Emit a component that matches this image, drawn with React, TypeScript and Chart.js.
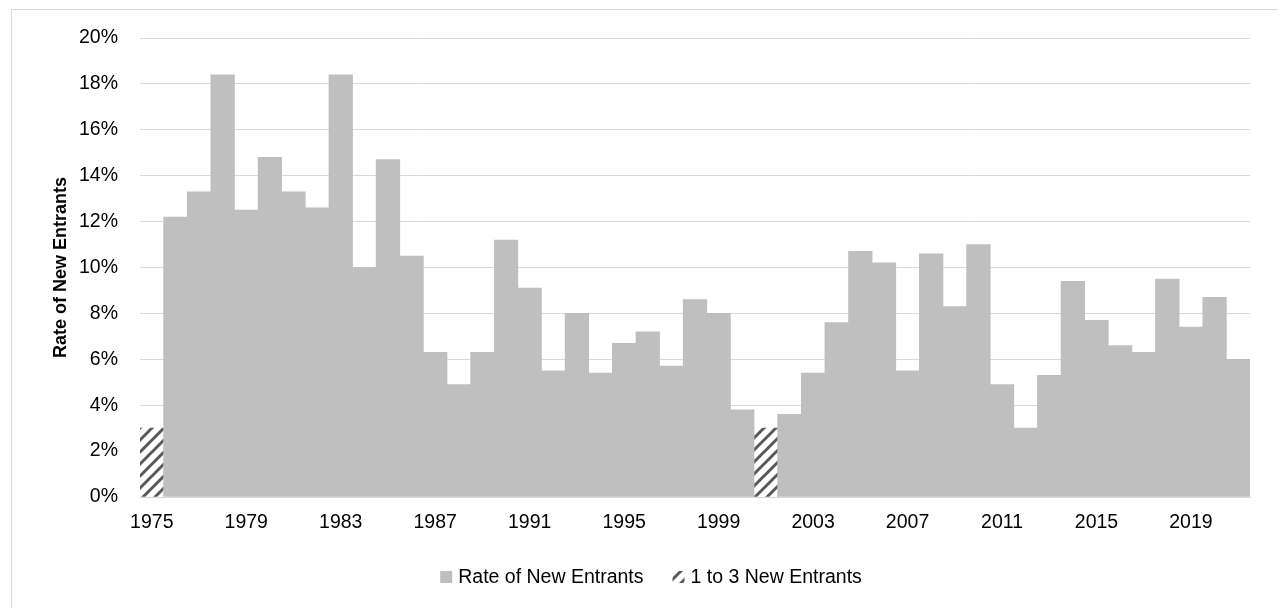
import React, { useEffect, useRef } from "react";
import { Chart, registerables } from "chart.js";

Chart.register(...registerables);

const years: string[] = [];
for (let y = 1975; y <= 2021; y++) years.push(String(y));

// Rate of New Entrants (%), null where only 1 to 3 new entrants
const rateValues: (number | null)[] = [
  null, 12.2, 13.3, 18.4, 12.5, 14.8, 13.3, 12.6, 18.4, 10.0,
  14.7, 10.5, 6.3, 4.9, 6.3, 11.2, 9.1, 5.5, 8.0, 5.4,
  6.7, 7.2, 5.7, 8.6, 8.0, 3.8, null, 3.6, 5.4, 7.6,
  10.7, 10.2, 5.5, 10.6, 8.3, 11.0, 4.9, 3.0, 5.3, 9.4,
  7.7, 6.6, 6.3, 9.5, 7.4, 8.7, 6.0,
];

// 1 to 3 New Entrants (hatched placeholder bars)
const fewValues: (number | null)[] = years.map((y) =>
  y === "1975" || y === "2001" ? 3 : null
);

const yTicks = [0, 2, 4, 6, 8, 10, 12, 14, 16, 18, 20];

const FONT = "'Liberation Sans', Arial, sans-serif";
const TICK_SIZE = 19.5;

function makeHatch(): CanvasPattern | string {
  const size = 12;
  const c = document.createElement("canvas");
  c.width = size;
  c.height = size;
  const ctx = c.getContext("2d");
  if (!ctx) return "#595959";
  ctx.fillStyle = "#ffffff";
  ctx.fillRect(0, 0, size, size);
  ctx.strokeStyle = "#595959";
  ctx.lineWidth = 3;
  ctx.beginPath();
  ctx.moveTo(-2, size + 2);
  ctx.lineTo(size + 2, -2);
  ctx.moveTo(-2, 2);
  ctx.lineTo(2, -2);
  ctx.moveTo(size - 2, size + 2);
  ctx.lineTo(size + 2, size - 2);
  ctx.stroke();
  const p = ctx.createPattern(c, "repeat");
  return p || "#595959";
}

const customLegend = {
  id: "customLegend",
  afterDraw(chart: any) {
    const ctx = chart.ctx as CanvasRenderingContext2D;
    const box = 12;
    const boxGap = 6;
    const itemGap = 29;
    const cy = 569;
    ctx.save();
    ctx.font = `${TICK_SIZE}px ${FONT}`;
    ctx.textBaseline = "middle";
    ctx.textAlign = "left";
    const items = chart.data.datasets.map((ds: any) => ({
      label: ds.label as string,
      fill: ds.backgroundColor,
      w: ctx.measureText(ds.label).width,
    }));
    let total = 0;
    items.forEach((it: any, i: number) => {
      total += box + boxGap + it.w + (i < items.length - 1 ? itemGap : 0);
    });
    let x = chart.width / 2 - total / 2 + 4;
    items.forEach((it: any) => {
      ctx.fillStyle = it.fill;
      ctx.fillRect(x, cy - box / 2, box, box);
      x += box + boxGap;
      ctx.fillStyle = "#000000";
      ctx.fillText(it.label, x, cy + 1);
      x += it.w + itemGap;
    });
    ctx.restore();
  },
};

export default function App() {
  const ref = useRef<HTMLCanvasElement | null>(null);

  useEffect(() => {
    if (!ref.current) return;
    const hatch = makeHatch();
    const chart = new Chart(ref.current, {
      type: "bar",
      data: {
        labels: years,
        datasets: [
          {
            label: "Rate of New Entrants",
            data: rateValues,
            backgroundColor: "#bfbfbf",
            borderWidth: 0,
            barPercentage: 1,
            categoryPercentage: 1,
            grouped: false,
          } as any,
          {
            label: "1 to 3 New Entrants",
            data: fewValues,
            backgroundColor: hatch as any,
            borderWidth: 0,
            barPercentage: 1,
            categoryPercentage: 1,
            grouped: false,
          } as any,
        ],
      },
      plugins: [customLegend],
      options: {
        animation: false,
        responsive: false,
        maintainAspectRatio: false,
        layout: { padding: { left: 0, right: 36, top: 30, bottom: 60 } },
        plugins: {
          tooltip: { enabled: false },
          legend: { display: false },
        },
        scales: {
          x: {
            grid: { display: false, drawTicks: false },
            border: { display: true, color: "#d9d9d9", width: 1 },
            ticks: {
              autoSkip: false,
              maxRotation: 0,
              minRotation: 0,
              padding: 14,
              color: "#000000",
              font: { family: FONT, size: TICK_SIZE },
              callback: (_v: any, i: number) => (i % 4 === 0 ? years[i] : ""),
            },
            afterFit: (s: any) => {
              s.height = 51;
            },
          },
          y: {
            min: 0,
            max: 20,
            afterBuildTicks: (s: any) => {
              s.ticks = yTicks.map((v) => ({ value: v }));
            },
            grid: { color: "#d9d9d9", lineWidth: 1, drawTicks: false },
            border: { display: false },
            ticks: {
              padding: 22,
              color: "#000000",
              font: { family: FONT, size: TICK_SIZE },
              callback: (v: any) => v + "%",
            },
            title: {
              display: true,
              text: "Rate of New Entrants",
              color: "#000000",
              font: { family: FONT, size: 18, weight: "bold" },
              padding: { top: 42, bottom: 0 },
            },
            afterFit: (s: any) => {
              s.width = 132;
              s.paddingTop = 0;
              s.paddingBottom = 0;
            },
          },
        },
      },
    });
    return () => chart.destroy();
  }, []);

  return (
    <div
      style={{
        position: "relative",
        width: 1278,
        height: 600,
        overflow: "hidden",
        background: "#ffffff",
      }}
    >
      <div
        style={{
          position: "absolute",
          left: 3,
          top: 1,
          width: 1400,
          height: 800,
          border: "1px solid #d9d9d9",
        }}
      />
      <canvas
        ref={ref}
        width={1278}
        height={600}
        style={{ position: "absolute", left: 0, top: 0, width: 1278, height: 600 }}
      />
    </div>
  );
}
